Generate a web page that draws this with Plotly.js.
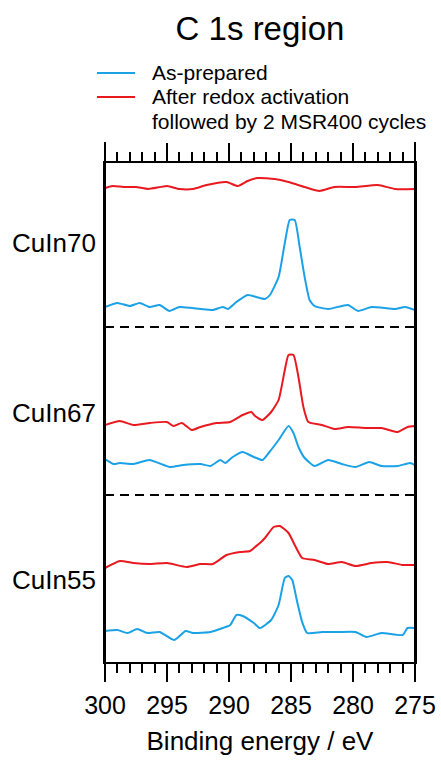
<!DOCTYPE html>
<html>
<head>
<meta charset="utf-8">
<script src="https://cdn.plot.ly/plotly-3.0.1.min.js"></script>
<style>html,body{margin:0;padding:0;background:#fff;}#chart{width:441px;height:761px;}</style>
</head>
<body>
<div id="chart"></div>
<script>
// Binding energy (eV) and stacked intensity (arb. units, offset per sample)
const e70Red = [300,299.4,298.5,297.5,296.5,295,294,292.9,291.8,290.2,289.3,288.5,287.7,286.3,285.2,283.9,282.7,281.5,279.8,278,276.6,275];
const i70Red = [474,476,475,475,473,476,473,473,477,480,476,481,484,483,480,475,471,475,475,477,473,473];
const e70Blue = [300,299,298,297.2,296.4,295.6,294.8,294,292.3,291.3,290.5,290.1,289.4,288.5,287.8,287.1,286.7,286,285.5,285.1,284.7,284.3,283.9,283.5,283.1,282,280.4,279.6,278.5,276.6,275.8,275];
const i70Blue = [355,359,356,359,355,357,351,355,353,352,355,353,360,367,365,363,367,385,419,442,442,415,385,362,356,353,357,351,355,353,355,352];

const e67Red = [300,298.8,297.7,296.4,295,294.5,293.8,293,292.3,291,289.9,288.9,288.2,287.9,287.3,286.6,286,285.5,285.2,284.8,284.4,284,283.6,282.5,281.5,280.4,279,277.7,276.4,275.6,275];
const i67Red = [237,241,237,239,240,236,239,232,235,239,240,247,250,246,242,250,262,292,307,307,285,255,240,237,233,235,234,234,230,235,236];
const e67Blue = [300,299.3,298.8,297.7,296.4,294.8,293.7,292.3,291.5,290.7,290.3,289.7,288.9,288,287.3,286.8,286,285.2,284.8,284.4,283.9,283.1,282,280.9,279.8,278.7,277.7,276.4,275.4,275];
const i67Blue = [203,198,199,198,202,195,197,198,196,202,199,205,210,205,202,209,222,236,229,215,204,196,202,198,195,200,196,196,199,197];

const e55Red = [300,298.8,297.7,296.4,295,293.4,292.3,291.3,290.2,289.1,288.3,287.9,287.5,287.1,286.4,285.9,285.2,284.7,284.1,283.1,282,280.9,279.8,278.5,277.2,276,275];
const i55Red = [94,101,99,98,99,95,98,98,107,110,111,115,119,124,135,136,129,117,104,102,98,100,96,99,100,97,97];
const e55Blue = [300,299,298.2,297.4,296.6,295.6,294.4,293.5,292.9,291.5,290.5,289.9,289.4,288.9,288,287.5,286.6,286,285.5,285.2,284.9,284.5,284.1,283.7,282.5,281.2,279.8,278.9,277.7,276,275.6,275];
const i55Blue = [31,32,29,33,29,30,22,31,29,30,34,37,47,46,39,34,42,57,84,86,82,60,40,29,30,30,30,25,29,27,34,34];

const sampleLabels = ['CuIn70','CuIn67','CuIn55'];
const labelLevels = [419, 249, 82];
const separatorLevels = [335, 167];
const xTickVals = [300,295,290,285,280,275];
const seriesNames = ['As-prepared', 'After redox activation'];
const seriesNote = 'followed by 2 MSR400 cycles';

const BLUE = '#1ba1e6';
const RED = '#e8191f';
const FONT = 'Liberation Sans, Arial, Helvetica, sans-serif';

function tr(x, y, color, name) {
  return {x: x, y: y, type: 'scatter', mode: 'lines', name: name, showlegend: false,
    line: {color: color, width: 2, shape: 'spline', smoothing: 0.5}, hoverinfo: 'skip'};
}

const data = [
  tr(e70Blue, i70Blue, BLUE, seriesNames[0]),
  tr(e70Red, i70Red, RED, seriesNames[1]),
  tr(e67Blue, i67Blue, BLUE, seriesNames[0]),
  tr(e67Red, i67Red, RED, seriesNames[1]),
  tr(e55Blue, i55Blue, BLUE, seriesNames[0]),
  tr(e55Red, i55Red, RED, seriesNames[1])
];

// legend key (drawn in paper coordinates above the plot)
const keyRows = [1.1804, 1.1323];
const keyColors = [BLUE, RED];
const legendShapes = keyRows.map((yy, k) => ({type: 'line', xref: 'paper', yref: 'paper',
  x0: -0.026, x1: 0.097, y0: yy, y1: yy, line: {color: keyColors[k], width: 2}}));
const legendTexts = [seriesNames[0], seriesNames[1], seriesNote].map((t, k) => ({
  text: t, xref: 'paper', yref: 'paper', x: 0.145, y: [1.1804, 1.1323, 1.0822][k],
  xanchor: 'left', yanchor: 'middle', showarrow: false,
  font: {size: 21, family: FONT, color: '#000'}}));
// frame side lines extend to the tick tips, as in the original
const frameShapes = [0, 1].map(xx => ({type: 'line', xref: 'paper', yref: 'paper',
  x0: xx, x1: xx, y0: -0.036, y1: 1.042, line: {color: '#000', width: 2}}));

const layout = {
  width: 441, height: 761,
  margin: {l: 105, r: 26, t: 163, b: 99, pad: 0},
  paper_bgcolor: '#fff', plot_bgcolor: '#fff',
  font: {family: FONT, color: '#000'},
  title: {text: 'C 1s region', font: {size: 33, family: FONT, color: '#000'},
    x: 0.5, xref: 'paper', xanchor: 'center', y: 0.962, yref: 'container', yanchor: 'middle'},
  showlegend: false,
  xaxis: {range: [300, 275], autorange: false, showgrid: false, zeroline: false,
    showline: true, linecolor: '#000', linewidth: 2, mirror: 'ticks',
    ticks: 'outside', ticklen: 18, tickwidth: 2, tickcolor: '#000',
    tickvals: xTickVals, ticktext: xTickVals.map(String),
    tickfont: {size: 25, family: FONT, color: '#000'}, ticklabelstandoff: 2,
    minor: {dtick: 1, ticks: 'outside', ticklen: 9, tickwidth: 2, tickcolor: '#000', showgrid: false},
    title: {text: 'Binding energy / eV', font: {size: 26, family: FONT, color: '#000'}, standoff: 14}},
  yaxis: {range: [0, 499], autorange: false, showgrid: false, zeroline: false,
    showline: true, linecolor: '#000', linewidth: 2, mirror: true,
    ticks: '', showticklabels: false},
  shapes: separatorLevels.map(v => ({type: 'line', xref: 'paper', yref: 'y', x0: 0, x1: 1, y0: v, y1: v,
    line: {color: '#000', width: 2, dash: '9px,6px'}})).concat(legendShapes, frameShapes),
  annotations: sampleLabels.map((t, k) => ({text: t, xref: 'paper', yref: 'y', x: -0.305, y: labelLevels[k],
    xanchor: 'left', yanchor: 'middle', showarrow: false, font: {size: 26, family: FONT, color: '#000'}}))
    .concat(legendTexts)
};

Plotly.newPlot('chart', data, layout, {displayModeBar: false, staticPlot: true});
</script>
</body>
</html>
